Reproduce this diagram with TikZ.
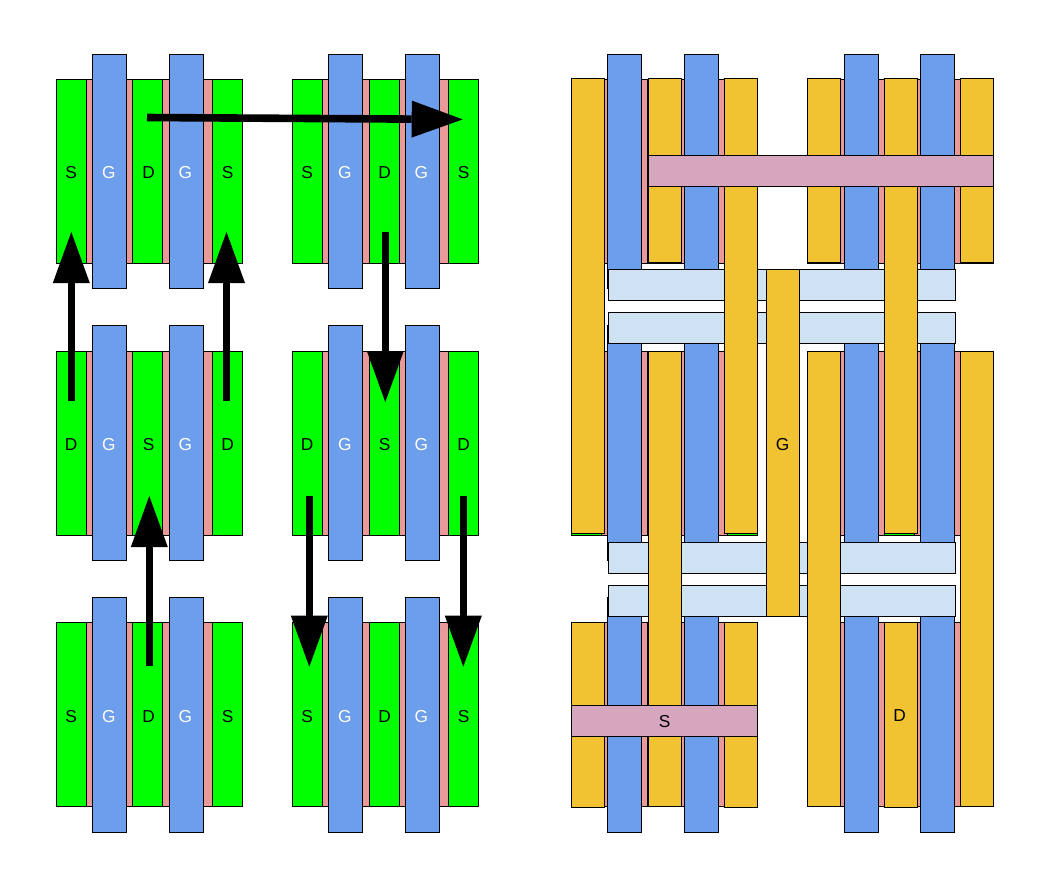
\documentclass[tikz,border=0pt]{standalone}
\usepackage{fontspec}
\setmainfont{Liberation Sans}
\usetikzlibrary{arrows.meta,positioning}

\definecolor{diffgreen}{HTML}{00FF00}
\definecolor{polyblue}{HTML}{6D9EEB}
\definecolor{oxidepink}{HTML}{EA9999}
\definecolor{metalyellow}{HTML}{F1C232}
\definecolor{viablue}{HTML}{CFE2F3}
\definecolor{strapmauve}{HTML}{D5A6BD}

\tikzset{
  bar/.style={draw,shape=rectangle,inner sep=0pt,outer sep=0pt,line width=1pt},
  oxide/.style={bar,fill=oxidepink,minimum width=185.6pt,minimum height=184pt},
  diff/.style={bar,fill=diffgreen,minimum width=30pt,minimum height=184pt},
  gate/.style={bar,fill=polyblue,minimum width=34.2pt,minimum height=234.6pt},
  metal/.style={bar,fill=metalyellow,minimum width=33pt},
  cross/.style={bar,fill=viablue,minimum width=347pt,minimum height=31pt},
  strap/.style={bar,fill=strapmauve,minimum height=31pt},
  lbl/.style={inner sep=0pt,font=\fontsize{17.3pt}{19pt}\selectfont},
  flow/.style={line width=7.6pt,-{Triangle[length=51pt,width=37pt,line width=0pt]}}
}

% one finger cell: id, x shift, y of diffusion, y of gates, nudge of middle diff, nudge of first gate
\newcommand{\fincell}[6]{
  \path ({149.5+#2},#3) node(ox#1)[oxide] {};
  \path ({71.6+#2},#3) node(da#1)[diff] {};
  \path ({147.6+#2+#5},#3) node(db#1)[diff] {};
  \path ({227.6+#2},#3) node(dc#1)[diff] {};
  \path ({109.3+#2+#6},#4) node(ga#1)[gate] {};
  \path ({186.4+#2},#4) node(gb#1)[gate] {};
}

\begin{document}
\begin{tikzpicture}[x=1pt,y=-1pt]
\useasboundingbox (0,0) rectangle (1055,895);

% left half, with labels
\foreach \cx/\col/\nud in {0/a/0,236/b/1} {
  \foreach \cy/\gy/\ly/\rw/\outr/\innr in {171.2/171.3/172.7/1/S/D,443.3/442.7/444.7/2/D/S,714.3/714.8/716.7/3/S/D} {
    \fincell{\col\rw}{\cx}{\cy}{\gy}{\nud}{0}
    \path ({71.2+\cx},\ly) node(la\col\rw)[lbl] {\outr};
    \path ({108.8+\cx},\ly) node(lb\col\rw)[lbl,white] {G};
    \path ({148.7+\cx},\ly) node(lc\col\rw)[lbl] {\innr};
    \path ({185.4+\cx},\ly) node(ld\col\rw)[lbl,white] {G};
    \path ({227.7+\cx},\ly) node(le\col\rw)[lbl] {\outr};
  }
}

% right half
\foreach \cx/\col/\nud/\gnud in {515/c/0/0,751/d/1.2/1} {
  \foreach \cy/\gy/\rw in {171.2/171.3/1,443.3/442.7/2,714.3/714.8/3} {
    \fincell{\col\rw}{\cx}{\cy}{\gy}{\nud}{\gnud}
  }
}

% short metal
\path (665,170.25) node(m2)[metal,minimum height=183.5pt] {};
\path (824,170.25) node(m4)[metal,minimum height=183.5pt] {};
\path (977,170.25) node(m6)[metal,minimum height=183.5pt] {};
\path (588,715) node(m10)[metal,minimum height=184.7pt] {};
\path (741,715) node(m11)[metal,minimum height=184.7pt] {};
\path (901,715) node(m12)[metal,minimum height=184.7pt] {};

% gate crossings
\path (781.8,284.8) node(x1)[cross] {};
\path (781.8,327.8) node(x2)[cross] {};
\path (781.8,557.8) node(x3)[cross] {};
\path (781.8,600.8) node(x4)[cross] {};

% long metal
\path (588,305.75) node(m1)[metal,minimum height=454.5pt] {};
\path (741,305.75) node(m3)[metal,minimum height=454.5pt] {};
\path (901,305.75) node(m5)[metal,minimum height=454.5pt] {};
\path (665,578.8) node(m7)[metal,minimum height=455pt] {};
\path (824,578.8) node(m8)[metal,minimum height=455pt] {};
\path (977,578.8) node(m9)[metal,minimum height=455pt] {};
\path (782.8,442.8) node(mg)[metal,minimum height=347pt] {};

% straps
\path (821,170.8) node(st1)[strap,minimum width=345pt] {};
\path (664.5,720.7) node(st2)[strap,minimum width=186pt] {};

% labels on the metal
\path (782.5,444.7) node(lg)[lbl] {G};
\path (664.7,721.7) node(ls)[lbl] {S};
\path (899.7,716) node(ld)[lbl] {D};

% current flow
\coordinate (a1s) at (71.3,401);
\coordinate (a1e) at (71.3,232);
\coordinate (a2s) at (226.5,401);
\coordinate (a2e) at (226.5,232);
\coordinate (a3s) at (149.3,666);
\coordinate (a3e) at (149.3,496);
\coordinate (a4s) at (147,117.5);
\coordinate (a4e) at (462.7,119.4);
\coordinate (a5s) at (385.3,231.7);
\coordinate (a5e) at (385.3,402);
\coordinate (a6s) at (309.3,496);
\coordinate (a6e) at (309.3,666.7);
\coordinate (a7s) at (463.3,496);
\coordinate (a7e) at (463.3,666.7);
\draw[flow] (a1s) -- (a1e);
\draw[flow] (a2s) -- (a2e);
\draw[flow] (a3s) -- (a3e);
\draw[flow] (a4s) -- (a4e);
\draw[flow] (a5s) -- (a5e);
\draw[flow] (a6s) -- (a6e);
\draw[flow] (a7s) -- (a7e);
\end{tikzpicture}
\end{document}
